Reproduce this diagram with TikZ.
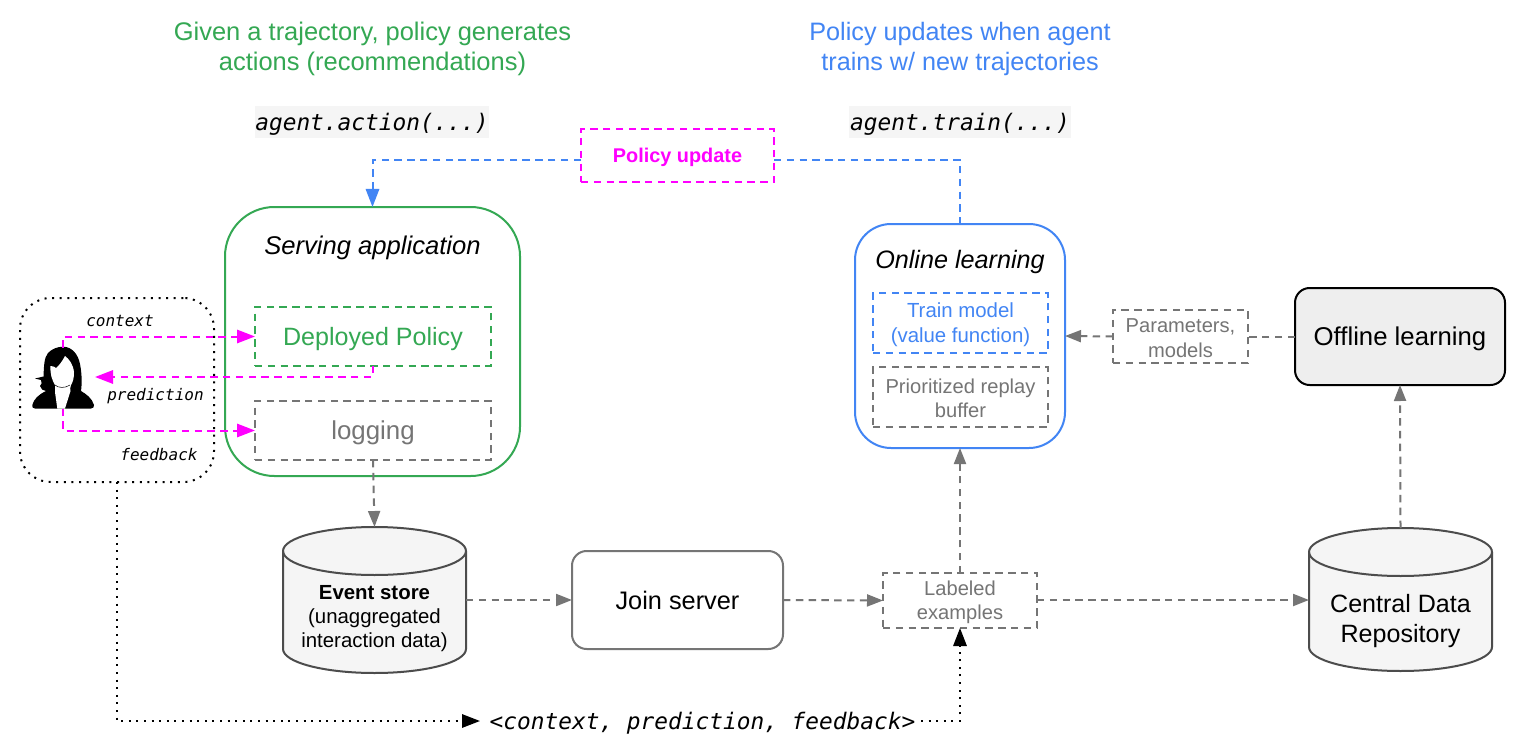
\documentclass[tikz,border=0pt]{standalone}
\usepackage{fontspec}
\setmainfont{Liberation Sans}
\newfontfamily\codefont{DejaVu Sans Mono}
\usetikzlibrary{arrows.meta,calc}
\definecolor{gGreen}{HTML}{34A853}
\definecolor{gBlue}{HTML}{4285F4}
\definecolor{gMag}{HTML}{FF00FF}
\definecolor{gGray}{HTML}{757575}
\definecolor{gFill}{HTML}{F5F5F5}
\definecolor{gOff}{HTML}{EEEEEE}
\newcommand{\fsz}[2]{\fontsize{#1}{#2}\selectfont}
\newcommand{\dna}{\rule{0pt}{17pt}}
\newcommand{\dnb}{\rule{0pt}{14pt}}
\tikzset{
  x=0.75pt,y=-0.75pt,
  bx/.style 2 args={minimum width=#1*0.75pt,minimum height=#2*0.75pt,inner sep=0pt,outer sep=0pt,align=center},
  dsh/.style={line width=1.5pt,dash pattern=on 5.6pt off 4pt},
  grayline/.style={dsh,draw=gGray},
  grayarrow/.style={grayline,-{Triangle[length=12pt,width=9pt,fill=gGray]}},
  magarrow/.style={dsh,draw=gMag,-{Triangle[length=13.5pt,width=10pt,fill=gMag]}},
  bluearrow/.style={dsh,draw=gBlue,-{Triangle[length=13.5pt,width=10pt,fill=gBlue]}},
  dotline/.style={draw=black,line width=1.5pt,dash pattern=on 1.5pt off 4.2pt},
  blackarrow/.style={dotline,-{Triangle[length=13.5pt,width=10pt,fill=black]}},
  code/.style={inner sep=0pt,outer sep=0pt,font=\codefont\itshape\fsz{17.1}{20}},
  small/.style={inner sep=0pt,outer sep=0pt,font=\codefont\itshape\fsz{12}{14}},
  head/.style={inner sep=0pt,outer sep=0pt,align=center,font=\fsz{19.1}{22.5}},
  lab/.style={inner sep=0pt,outer sep=0pt,align=center},
  cyl/.style={draw=black!70,line width=1.5pt,fill=gFill},
}
\begin{document}
\begin{tikzpicture}
\useasboundingbox (0,0) rectangle (1531,756);
\fill[white] (0,0) rectangle (1531,756);

% headings
\node[head,text=gGreen] (h1) at (372.5,48.5) {Given a trajectory, policy generates\\actions (recommendations)};
\node[head,text=gBlue,font=\fsz{18.9}{22.5}] (h2) at (960,48.5) {Policy updates when agent\\trains w/ new trajectories};
\node[code,fill=gFill,minimum width=234*0.75pt,minimum height=32*0.75pt] (c1) at (372,122) {\rule{0pt}{16pt}agent.action(...)};
\node[code,fill=gFill,minimum width=222*0.75pt,minimum height=32*0.75pt] (c2) at (960,122) {\rule{0pt}{16pt}agent.train(...)};

% serving
\node[bx={295}{269},draw=gGreen,line width=1.5pt,rounded corners=37pt] (serving) at (372.5,341.5) {};
\node[lab,font=\itshape\fsz{19.2}{22}] (servingt) at (372.5,247.5) {Serving application};
\node[bx={236}{59},dsh,draw=gGreen,text=gGreen,font=\fsz{18.8}{22}] (deployed) at (373,336.5) {\dna Deployed Policy};
\node[bx={236}{59},grayline,text=gGray,font=\fsz{19.4}{22}] (logging) at (373,430.5) {\dna logging};

% policy update
\node[bx={193}{53},dsh,draw=gMag,text=gMag,font=\bfseries\fsz{14.9}{16}] (policy) at (677.5,155.5) {\dnb Policy update};
\coordinate (polyy) at (678,160);

% online
\node[bx={210}{224},draw=gBlue,line width=1.5pt,rounded corners=27pt] (online) at (960,336) {};
\node[lab,font=\itshape\fsz{18.9}{22}] (onlinet) at (960,261.5) {Online learning};
\node[bx={175}{60},dsh,draw=gBlue,text=gBlue,font=\fsz{15.3}{18.7}] (train) at (960.5,323) {\dnb Train model\\(value function)};
\node[bx={175}{60},grayline,text=gGray,font=\fsz{15.1}{18.3}] (replay) at (960.5,397) {\rule{0pt}{13pt}Prioritized replay\\buffer};

% offline, parameters
\node[bx={135}{53},grayline,text=gGray,font=\fsz{15.1}{18.3}] (params) at (1180.5,336.5) {\rule{0pt}{13pt}Parameters,\\models};
\node[bx={210}{97},draw=black,line width=1.5pt,fill=gOff,rounded corners=11pt,font=\fsz{19.3}{22}] (offline) at (1400,336.5) {\dna Offline learning};

% event store
\begin{scope}[shift={(374.5,551)}]
\path[cyl] (-91.5,0) -- (-91.5,98) .. controls (-91.5,111.3) and (-50.5,122) .. (0,122) .. controls (50.5,122) and (91.5,111.3) .. (91.5,98) -- (91.5,0) .. controls (91.5,-13.3) and (50.5,-24) .. (0,-24) .. controls (-50.5,-24) and (-91.5,-13.3) .. (-91.5,0) -- cycle;
\path[cyl,fill=none] (-91.5,0) .. controls (-91.5,13.3) and (-50.5,24) .. (0,24) .. controls (50.5,24) and (91.5,13.3) .. (91.5,0);
\end{scope}
\node[bx={183}{146}] (store) at (374.5,600) {};
\node[lab,font=\fsz{15.3}{18}] (storet) at (374.5,618.5) {\textbf{Event store}\\(unaggregated\\interaction data)};

% central
\begin{scope}[shift={(1400.5,552)}]
\path[cyl] (-91.5,0) -- (-91.5,95) .. controls (-91.5,108.3) and (-50.5,119) .. (0,119) .. controls (50.5,119) and (91.5,108.3) .. (91.5,95) -- (91.5,0) .. controls (91.5,-13.3) and (50.5,-24) .. (0,-24) .. controls (-50.5,-24) and (-91.5,-13.3) .. (-91.5,0) -- cycle;
\path[cyl,fill=none] (-91.5,0) .. controls (-91.5,13.3) and (-50.5,24) .. (0,24) .. controls (50.5,24) and (91.5,13.3) .. (91.5,0);
\end{scope}
\node[bx={183}{143}] (central) at (1400.5,599.5) {};
\node[lab,font=\fsz{18.8}{22.5}] (centralt) at (1400.5,621) {Central Data\\Repository};

% join, labeled
\node[bx={211}{98},draw=gGray,line width=1.5pt,rounded corners=11pt,font=\fsz{19}{22}] (join) at (677.5,600) {Join server};
\node[bx={154}{55},grayline,text=gGray,font=\fsz{15.1}{18}] (labeled) at (960,600.5) {\dnb Labeled\\examples};

% user box
\node[bx={194}{184},dotline,rounded corners=23pt] (userbox) at (117,390) {};
\node[small] (lctx) at (120,320.5) {context};
\node[small] (lpred) at (155.5,396.5) {prediction};
\node[small] (lfb) at (159,455) {feedback};
\node[bx={62}{61}] (user) at (63,378) {};
\fill[black] (63.3,346.7) .. controls (72,347) and (78,354) .. (80,364) .. controls (82,374) and (82,384) .. (81,391) .. controls (86,394) and (92,398) .. (94,405) .. controls (94.5,407) and (93,408.5) .. (91,408.5) -- (35,408.5) .. controls (33,408.5) and (31.5,407) .. (32.3,405) .. controls (34,399) and (38,395) .. (46,391) .. controls (43,391) and (41,389) .. (40,386) .. controls (42,385) and (42,382) .. (41,380) .. controls (39,379.5) and (37,379) .. (35,378.5) .. controls (38,377.5) and (41,377.5) .. (43.5,376.5) .. controls (44,366) and (44,358) .. (48,353) .. controls (52,349) and (57,346.7) .. (63.3,346.7) -- cycle;
\fill[white] (50.5,366) .. controls (53,366) and (55,367) .. (56,368) .. controls (59,366) and (63,360) .. (65,356) .. controls (69,359) and (73,364) .. (74,372) .. controls (74,378) and (73,382) .. (71,385) .. controls (70,388) and (70,389) .. (70.5,391) -- (65,408.5) -- (57.3,408.5) -- (55,392) -- (55,385) .. controls (52,380) and (50,374) .. (50.5,366) -- cycle;
\draw[black,line width=0.4pt] (55,385) .. controls (58,388) and (65,388.5) .. (70,385);

% connectors
\draw[bluearrow] (policy.west |- polyy) -| (serving.north);
\draw[dsh,draw=gBlue] (policy.east |- polyy) -| (online.north);
\draw[magarrow] (user.north) |- (deployed.west);
\coordinate (predend) at (95,377);
\draw[magarrow] (deployed.south) |- (predend);
\draw[magarrow] (user.south) |- (logging.west);
\draw[grayarrow] (logging.south) -- (store.north);
\draw[grayarrow] (store.east) -- (join.west);
\draw[grayarrow] (join.east) -- (labeled.west);
\draw[grayarrow] (labeled.north) -- (online.south);
\draw[grayarrow] (labeled.east |- store.east) -- (central.west |- store.east);
\draw[grayarrow] (central.north) -- (offline.south);
\draw[grayline] (offline.west) -- (params.east);
\draw[grayarrow] (params.west) -- (online.east);

% bottom triple
\node[code,minimum width=441*0.75pt] (triple) at (700.5,721) {\rule{0pt}{16pt}\hspace*{3pt}<context, prediction, feedback>};
\draw[blackarrow] (userbox.south) |- (triple.west);
\draw[blackarrow] (triple.east) -| (labeled.south);
\end{tikzpicture}
\end{document}
